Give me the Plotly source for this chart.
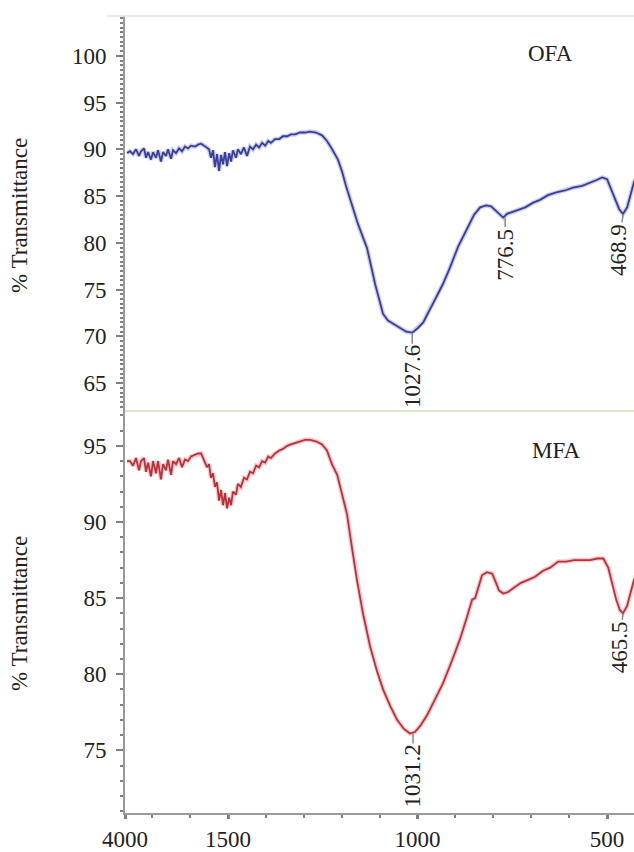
import plotly.graph_objects as go

# ---------------- data (wavenumber cm-1, % transmittance) ----------------
ofa_wn = [3951, 3878, 3806, 3733, 3660, 3611, 3539, 3490, 3442, 3369, 3320, 3247, 3199, 3126,
          3078, 3005, 2956, 2883, 2835, 2762, 2689, 2616, 2544, 2471, 2398, 2301, 2228, 2155,
          2082, 2010, 1961, 1913, 1864, 1816, 1767, 1718, 1670, 1621, 1573, 1524, 1497, 1492,
          1487, 1479, 1474, 1466, 1458, 1450, 1442, 1434, 1426, 1418, 1410, 1402, 1394, 1387,
          1376, 1365, 1355, 1344, 1334, 1323, 1310, 1297, 1284, 1268, 1252, 1239, 1228, 1210,
          1199, 1189, 1178, 1157, 1133, 1112, 1091, 1078, 1062, 1046, 1030, 1014, 999, 985,
          967, 948, 933, 914, 893, 869, 851, 835, 819, 806, 793, 782, 774, 764, 751, 735,
          716, 695, 677, 656, 634, 611, 590, 566, 545, 529, 513, 500, 489, 479, 468, 458,
          447, 437, 429, 421]
ofa_t = [89.6, 89.8, 89.5, 90.0, 89.3, 89.8, 90.1, 89.1, 89.7, 88.9, 89.7, 89.1, 89.9, 88.7,
         89.7, 89.3, 90.0, 89.0, 89.9, 89.6, 90.1, 89.8, 90.3, 90.1, 90.4, 90.3, 90.5, 90.6,
         90.4, 90.1, 90.0, 89.1, 89.9, 88.1, 89.5, 87.7, 89.4, 88.4, 89.7, 88.2, 89.6, 88.7,
         89.9, 89.1, 90.0, 89.5, 90.2, 89.3, 90.3, 90.0, 90.5, 90.2, 90.7, 90.4, 90.9, 90.7,
         91.1, 91.1, 91.4, 91.4, 91.6, 91.6, 91.8, 91.8, 91.9, 91.8, 91.5, 90.9, 90.2, 88.9,
         87.6, 86.1, 84.7, 82.0, 79.4, 75.6, 72.4, 71.7, 71.3, 70.9, 70.5, 70.4, 70.9, 71.5,
         73.0, 74.4, 75.6, 77.4, 79.6, 81.5, 83.0, 83.8, 84.0, 83.9, 83.4, 82.9, 82.7, 83.1,
         83.3, 83.5, 83.8, 84.3, 84.6, 85.1, 85.4, 85.6, 85.9, 86.1, 86.4, 86.7, 87.0, 86.8,
         85.7, 84.6, 83.6, 83.1, 83.8, 85.3, 86.5, 87.2]

mfa_wn = [3951, 3878, 3806, 3733, 3660, 3611, 3539, 3490, 3442, 3369, 3320, 3247, 3199, 3126,
          3078, 3005, 2956, 2883, 2835, 2762, 2689, 2616, 2544, 2471, 2398, 2301, 2228, 2155,
          2082, 2010, 1961, 1913, 1864, 1816, 1767, 1718, 1670, 1621, 1573, 1524, 1497, 1492,
          1487, 1479, 1474, 1466, 1458, 1450, 1442, 1434, 1426, 1418, 1410, 1402, 1394, 1387,
          1376, 1365, 1355, 1344, 1334, 1323, 1310, 1297, 1284, 1268, 1252, 1239, 1226, 1212,
          1199, 1186, 1173, 1160, 1144, 1125, 1107, 1091, 1072, 1054, 1036, 1020, 1007, 993,
          975, 954, 933, 909, 888, 869, 856, 848, 840, 830, 817, 803, 793, 785, 774, 761,
          745, 727, 708, 690, 669, 650, 629, 608, 587, 566, 545, 526, 510, 497, 487, 476,
          466, 458, 447, 437, 429, 421]
mfa_t = [94.0, 94.0, 93.7, 94.2, 93.4, 94.0, 94.2, 93.3, 93.9, 93.0, 94.0, 93.2, 94.0, 92.8,
         93.8, 93.4, 94.1, 93.1, 94.0, 93.8, 94.2, 93.6, 94.1, 94.0, 94.3, 94.4, 94.5, 94.5,
         94.1, 93.6, 93.8, 92.9, 93.2, 92.3, 92.6, 91.4, 92.1, 91.1, 91.9, 90.9, 91.6, 91.1,
         92.0, 91.8, 92.5, 92.3, 92.9, 92.8, 93.3, 93.2, 93.7, 93.6, 94.0, 93.9, 94.3, 94.2,
         94.5, 94.7, 94.8, 95.0, 95.1, 95.2, 95.3, 95.4, 95.4, 95.3, 95.1, 94.7, 93.8, 93.1,
         91.8, 90.5, 88.3, 86.2, 84.0, 81.8, 80.2, 79.0, 77.9, 77.0, 76.4, 76.1, 76.2, 76.6,
         77.3, 78.3, 79.4, 80.9, 82.3, 83.8, 84.9, 85.0, 85.7, 86.5, 86.7, 86.6, 86.0, 85.5,
         85.3, 85.4, 85.7, 86.0, 86.2, 86.4, 86.8, 87.0, 87.4, 87.4, 87.5, 87.5, 87.5, 87.6,
         87.6, 87.0, 86.0, 84.9, 84.2, 84.0, 84.5, 85.4, 86.2, 86.7]

ofa_peak_text = ["1027.6", "776.5", "468.9"]
ofa_peak_wn = [1014, 769, 458]
ofa_peak_t = [70.4, 82.7, 83.1]
ofa_peak_off = [44, 37, 36]

mfa_peak_text = ["1031.2", "465.5"]
mfa_peak_wn = [1012, 458]
mfa_peak_t = [76.1, 84.0]
mfa_peak_off = [43, 34]

x_tick_wn = [4000, 1500, 1000, 500]
x_tick_text = ["4000", "1500", "1000", "500"]
x_end_wn = 429

# ---------------- broken wavenumber scale (compressed above 1500) ----------------
K = 271.8 / 2500.0


def to_u(w):
    return 1500.0 - w if w <= 1500 else -(w - 1500.0) * K


FONT = "Liberation Serif, Times New Roman, serif"
FS = 23
AX = "#9a9a9a"
TK = "#808080"

fig = go.Figure()

for wn, t, yax, halo, col in [
    (ofa_wn, ofa_t, "y2", "rgba(110,115,200,0.35)", "#3a3e96"),
    (mfa_wn, mfa_t, "y", "rgba(235,120,130,0.40)", "#b8323b"),
]:
    xs = [to_u(w) for w in wn]
    fig.add_trace(go.Scatter(x=xs, y=t, mode="lines", yaxis=yax, xaxis="x",
                             line=dict(color=halo, width=4.5), hoverinfo="skip",
                             showlegend=False))
    fig.add_trace(go.Scatter(x=xs, y=t, mode="lines", yaxis=yax, xaxis="x",
                             line=dict(color=col, width=1.8), showlegend=False))


def peak_label(txt, w, t, off, yref):
    # labels next to the right edge are nudged left so they stay inside the page
    shift = -4 if w < 500 else 0
    return dict(x=to_u(w), y=t, xref="x", yref=yref, text=txt, textangle=-90,
                showarrow=True, arrowhead=0, arrowwidth=1.5, arrowcolor="#8a8a8a",
                ax=shift, ay=off, font=dict(family=FONT, size=FS, color="#222"))


annotations = []
for txt, w, t, off in zip(ofa_peak_text, ofa_peak_wn, ofa_peak_t, ofa_peak_off):
    annotations.append(peak_label(txt, w, t, off, "y2"))
for txt, w, t, off in zip(mfa_peak_text, mfa_peak_wn, mfa_peak_t, mfa_peak_off):
    annotations.append(peak_label(txt, w, t, off, "y"))

annotations.append(dict(x=to_u(648), y=100.2, xref="x", yref="y2", text="OFA", showarrow=False,
                        font=dict(family=FONT, size=FS, color="#222")))
annotations.append(dict(x=to_u(634), y=94.7, xref="x", yref="y", text="MFA", showarrow=False,
                        font=dict(family=FONT, size=FS, color="#222")))

SPLIT = (817 - 413) / 801.0
for yc in [(817 - 217) / 801.0, (817 - 617) / 801.0]:
    annotations.append(dict(x=(20 - 125) / 509.0, y=yc, xref="paper", yref="paper",
                            text="% Transmittance", textangle=-90, showarrow=False,
                            xanchor="center", yanchor="middle",
                            font=dict(family=FONT, size=FS, color="#222")))

fig.update_layout(
    width=634, height=852,
    margin=dict(l=125, r=0, t=16, b=35),
    paper_bgcolor="white", plot_bgcolor="white",
    font=dict(family=FONT, size=FS, color="#222"),
    showlegend=False,
    xaxis=dict(range=[to_u(4000), to_u(x_end_wn)], tickmode="array",
               tickvals=[to_u(w) for w in x_tick_wn], ticktext=x_tick_text,
               ticks="outside", ticklen=4, tickwidth=2.5, tickcolor=TK,
               showline=True, linecolor=AX, linewidth=2, showgrid=False, zeroline=False,
               anchor="y", tickfont=dict(family=FONT, size=FS, color="#222"),
               minor=dict(tickmode="linear", tick0=0, dtick=100, ticks="outside", ticklen=3,
                          tickwidth=2, tickcolor=TK)),
    yaxis=dict(domain=[0, SPLIT], range=[70.88, 97.29], tickmode="array",
               tickvals=[75, 80, 85, 90, 95], ticks="outside", ticklen=7, tickwidth=2,
               tickcolor=TK, showline=True, linecolor=AX, linewidth=2, showgrid=False,
               zeroline=False, anchor="x", ticklabelstandoff=5,
               tickfont=dict(family=FONT, size=FS, color="#222"),
               minor=dict(tickmode="linear", tick0=0, dtick=1, ticks="outside", ticklen=3,
                          tickwidth=2, tickcolor=TK)),
    yaxis2=dict(domain=[SPLIT, 1], range=[62.02, 104.26], tickmode="array",
                tickvals=[65, 70, 75, 80, 85, 90, 95, 100], ticks="outside", ticklen=7,
                tickwidth=2, tickcolor=TK, showline=True, linecolor=AX, linewidth=2,
                showgrid=False, zeroline=False, anchor="x", ticklabelstandoff=5,
                tickfont=dict(family=FONT, size=FS, color="#222"),
                minor=dict(tickmode="linear", tick0=0, dtick=0.5, ticks="outside", ticklen=3,
                           tickwidth=2, tickcolor=TK)),
    annotations=annotations,
    shapes=[
        dict(type="line", xref="paper", yref="paper", x0=(107 - 125) / 509.0, x1=1, y0=1, y1=1,
             line=dict(color="#e4e4e4", width=1.5)),
        dict(type="line", xref="paper", yref="paper", x0=0, x1=1, y0=SPLIT, y1=SPLIT,
             line=dict(color="#dbe6cf", width=2)),
    ],
)

fig.write_html("out.html")
